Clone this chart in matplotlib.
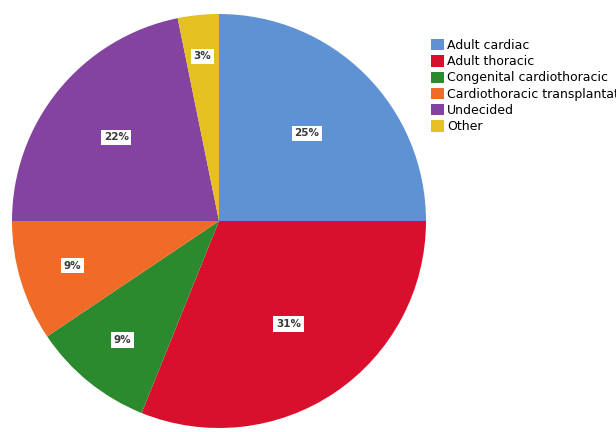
import matplotlib.pyplot as plt
import numpy as np

categories = ['Adult cardiac', 'Adult thoracic', 'Congenital cardiothoracic',
              'Cardiothoracic transplantation', 'Undecided', 'Other']
shares = [25.0, 31.1, 9.49, 9.41, 21.8, 3.2]
colors = ['#5f92d3', '#d8102e', '#2c8a2e', '#ef6b27', '#8443a0', '#e4c021']

# label distance from centre, as fraction of radius
label_r = [0.6, 0.6, 0.74, 0.74, 0.64, 0.8]

fig = plt.figure(figsize=(6.16, 4.32), dpi=100)
ax = fig.add_axes([12 / 616, 4 / 432, 414 / 616, 414 / 432])

wedges, _ = ax.pie(shares, colors=colors, startangle=90, counterclock=False,
                   wedgeprops=dict(linewidth=0))
ax.set_aspect('equal')
ax.set_xlim(-1, 1)
ax.set_ylim(-1, 1)

for w, v, r in zip(wedges, shares, label_r):
    mid = np.deg2rad((w.theta1 + w.theta2) / 2)
    ax.text(r * np.cos(mid), r * np.sin(mid), f'{v:.0f}%',
            ha='center', va='center', fontsize=7.5, fontweight='bold',
            color='#3a3a3a',
            bbox=dict(boxstyle='square,pad=0.25', fc='white', ec='none'))

# legend runs off the right edge, long labels get clipped
fig.legend(wedges, categories, loc='upper left',
           bbox_to_anchor=(431 / 616, 1 - 39 / 432), frameon=False,
           fontsize=9, handlelength=1.0, handleheight=1.0,
           handletextpad=0.3, labelspacing=0.26, borderpad=0,
           borderaxespad=0)

fig.savefig('out.png', dpi=100)
